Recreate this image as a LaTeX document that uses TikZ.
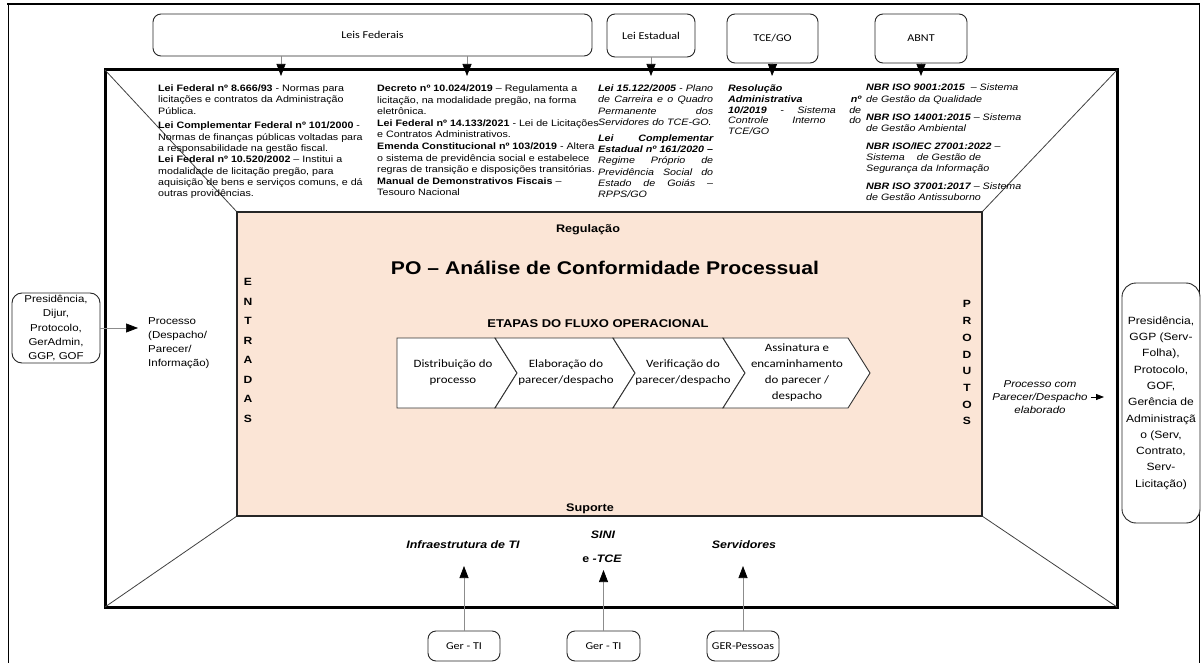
\documentclass[tikz,border=0pt]{standalone}
\usepackage{fontspec}
\setmainfont{Liberation Sans}[FakeStretch=1.15]
\newfontfamily\cf{Carlito}[FakeStretch=1.15]
\usetikzlibrary{arrows.meta}
\definecolor{peach}{RGB}{251,229,214}
\begin{document}
\begin{tikzpicture}[x=1pt,y=-1pt,
  rbox/.style={draw=black!85, line width=0.9pt, rounded corners=8pt, fill=white, inner sep=0},
  arr/.style={draw=black!45, line width=0.7pt, -{Triangle[width=9pt,length=12pt,color=black]}},
  diag/.style={draw=black!75, line width=0.8pt},
  col/.style={inner sep=0, anchor=north west, align=left},
  chev/.style={draw=black!80, fill=white, line width=0.9pt},
  ctext/.style={align=center, inner sep=0, font=\cf\fontsize{11.2}{16}\selectfont},
  boxfont/.style={font=\cf\fontsize{10.5}{12}\selectfont},
  bottxt/.style={inner sep=0, font=\bfseries\itshape\fontsize{10.8}{13}\selectfont}]
\useasboundingbox (0,0) rectangle (1202,663);
% outer frame
\draw[line width=0.8pt] (8,4) -- (8,670);
\draw[line width=0.8pt] (1199,4) -- (1199,670);
\draw[line width=2.2pt] (7,4) -- (1200,4);
% main frame and regulation box
\node[draw, line width=3pt, minimum width=1012pt, minimum height=537pt, inner sep=0, outer sep=0] (mainr) at (611,338.5) {};
\coordinate (rnw) at (237,212); \coordinate (rne) at (982,212);
\coordinate (rsw) at (237,516); \coordinate (rse) at (982,516);
\draw[diag] (mainr.north west) -- (rnw);
\draw[diag] (mainr.north east) -- (rne);
\draw[diag] (mainr.south west) -- (rsw);
\draw[diag] (mainr.south east) -- (rse);
\node[draw=black!85, line width=1.5pt, fill=peach, minimum width=745pt, minimum height=304pt, inner sep=0, outer sep=0] (reg) at (609.5,364) {};
% top boxes
\node[rbox, boxfont, minimum width=439pt, minimum height=42pt] (lf) at (372.5,35) {Leis Federais};
\node[rbox, boxfont, minimum width=88pt, minimum height=43pt] (le) at (651,35.5) {Lei Estadual};
\node[rbox, boxfont, minimum width=91pt, minimum height=49pt] (tce) at (772.5,38.5) {TCE/GO};
\node[rbox, boxfont, minimum width=92pt, minimum height=49pt] (abnt) at (921,38.5) {ABNT};
\coordinate (a1) at (281,76); \coordinate (a2) at (467,76);
\coordinate (a3) at (651,76); \coordinate (a4) at (772,76); \coordinate (a5) at (921,76);
\draw[arr] (lf.south -| a1) -- (a1);
\draw[arr] (lf.south -| a2) -- (a2);
\draw[arr] (le.south) -- (a3);
\draw[arr] (tce.south) -- (a4);
\draw[arr] (abnt.south) -- (a5);
% top texts
\node[col, font=\fontsize{9.3}{11.3}\selectfont] (t1) at (158,84.5) {%
\textbf{Lei Federal nº 8.666/93} - Normas para\\
licitações e contratos da Administração\\
Pública.\\[3.5pt]
\textbf{Lei Complementar Federal nº 101/2000} -\\
Normas de finanças públicas voltadas para\\
a responsabilidade na gestão fiscal.\\
\textbf{Lei Federal nº 10.520/2002} – Institui a\\
modalidade de licitação pregão, para\\
aquisição de bens e serviços comuns, e dá\\
outras providências.};
\node[col, font=\fontsize{9.3}{11.6}\selectfont] (t2) at (377,84.5) {%
\textbf{Decreto nº 10.024/2019} – Regulamenta a\\
licitação, na modalidade pregão, na forma\\
eletrônica.\\
\textbf{Lei Federal nº 14.133/2021} - Lei de Licitações\\
e Contratos Administrativos.\\
\textbf{Emenda Constitucional nº 103/2019} - Altera\\
o sistema de previdência social e estabelece\\
regras de transição e disposições transitórias.\\
\textbf{Manual de Demonstrativos Fiscais} –\\
Tesouro Nacional};
\node[col, font=\itshape\fontsize{9.3}{11.3}\selectfont] (t3) at (598,84.5) {%
\makebox[115pt][s]{\textbf{Lei 15.122/2005} - Plano}\\
\makebox[115pt][s]{de Carreira e o Quadro}\\
\makebox[115pt][s]{Permanente dos}\\
Servidores do TCE-GO.\\[4.5pt]
\makebox[115pt][s]{\textbf{Lei Complementar}}\\
\makebox[115pt][s]{\textbf{Estadual nº 161/2020 –}}\\
\makebox[115pt][s]{Regime Próprio de}\\
\makebox[115pt][s]{Previdência Social do}\\
\makebox[115pt][s]{Estado de Goiás –}\\
RPPS/GO};
\node[col, font=\itshape\fontsize{9.3}{10.8}\selectfont] (t4) at (728,84.5) {%
\textbf{Resolução}\\
\makebox[133pt][s]{\textbf{Administrativa nº}}\\
\makebox[133pt][s]{\textbf{10/2019} - Sistema de}\\
\makebox[133pt][s]{Controle Interno do}\\
TCE/GO};
\node[col, font=\itshape\fontsize{9.3}{11.3}\selectfont] (t5) at (866,84) {%
\textbf{NBR ISO 9001:2015} \ – Sistema\\
de Gestão da Qualidade\\[6.5pt]
\textbf{NBR ISO 14001:2015} – Sistema\\
de Gestão Ambiental\\[6.5pt]
\textbf{NBR ISO/IEC 27001:2022} –\\
Sistema\hspace{12pt}de Gestão de\\
Segurança da Informação\\[6.5pt]
\textbf{NBR ISO 37001:2017} – Sistema\\
de Gestão Antissuborno};
% regulation box texts
\node[inner sep=0, font=\bfseries\fontsize{11}{13}\selectfont] (regt) at (588,230) {Regulação};
\node[inner sep=0, font=\bfseries\fontsize{18.4}{22}\selectfont] (title) at (605,268) {PO – Análise de Conformidade Processual};
\node[inner sep=0, font=\bfseries\fontsize{11.3}{13}\selectfont] (etapas) at (598,324) {ETAPAS DO FLUXO OPERACIONAL};
\node[inner sep=0, font=\bfseries\fontsize{11}{13}\selectfont] (sup) at (590,509) {Suporte};
\node[inner sep=0, anchor=north, align=center, font=\bfseries\fontsize{10.5}{19.5}\selectfont] (ent) at (248,278.5) {E\\N\\T\\R\\A\\D\\A\\S};
\node[inner sep=0, anchor=north, align=center, font=\bfseries\fontsize{10.5}{16.7}\selectfont] (prod) at (967,300.5) {P\\R\\O\\D\\U\\T\\O\\S};
% chevrons
\draw[chev] (397,338) -- (495,338) -- (517,373) -- (495,408) -- (397,408) -- cycle;
\draw[chev] (495,338) -- (613,338) -- (635,373) -- (613,408) -- (495,408) -- (517,373) -- cycle;
\draw[chev] (613,338) -- (723,338) -- (745,373) -- (723,408) -- (613,408) -- (635,373) -- cycle;
\draw[chev] (723,338) -- (848,338) -- (870,373) -- (848,408) -- (723,408) -- (745,373) -- cycle;
\node[ctext] (c1) at (453,373) {Distribuição do\\processo};
\node[ctext] (c2) at (566,373) {Elaboração do\\parecer/despacho};
\node[ctext] (c3) at (683,373) {Verificação do\\parecer/despacho};
\node[ctext] (c4) at (797,373) {Assinatura e\\encaminhamento\\do parecer /\\despacho};
% left side
\node[rbox, rounded corners=10pt, minimum width=88pt, minimum height=70pt, align=center, font=\fontsize{10}{14.2}\selectfont] (lb) at (56,328) {Presidência,\\Dijur,\\Protocolo,\\GerAdmin,\\GGP, GOF};
\coordinate (lbt) at (138,328);
\draw[arr] (lb.east) -- (lbt);
\node[inner sep=0, anchor=west, align=left, font=\fontsize{10}{13.8}\selectfont] (inp) at (148,343) {Processo\\(Despacho/\\Parecer/\\Informação)};
% right side
\node[inner sep=0, align=center, font=\itshape\fontsize{10}{13.3}\selectfont] (outp) at (1040,397) {Processo com\\Parecer/Despacho\\elaborado};
\coordinate (outt) at (1104,397);
\draw[draw=black, line width=0.8pt, -{Triangle[width=6pt,length=8pt,color=black]}] ([xshift=3pt]outp.east) -- (outt);
\node[rbox, rounded corners=14pt, minimum width=78pt, minimum height=240pt, align=center, font=\fontsize{10.5}{16.3}\selectfont] (rb) at (1161,403) {Presidência,\\GGP (Serv-\\Folha),\\Protocolo,\\GOF,\\Gerência de\\Administraçã\\o (Serv,\\Contrato,\\Serv-\\Licitação)};
% bottom
\node[bottxt] (infra) at (463,545) {Infraestrutura de TI};
\node[bottxt] (sini) at (603,535) {SINI};
\node[bottxt] (etce) at (602,559) {\textup{e} -TCE};
\node[bottxt] (serv) at (744,545) {Servidores};
\node[rbox, boxfont, minimum width=72pt, minimum height=30pt] (g1) at (464,646) {Ger - TI};
\node[rbox, boxfont, minimum width=73pt, minimum height=30pt] (g2) at (603.5,646) {Ger - TI};
\node[rbox, boxfont, minimum width=72pt, minimum height=30pt] (g3) at (743,646) {GER-Pessoas};
\coordinate (b1) at (464,566); \coordinate (b2) at (603.5,570); \coordinate (b3) at (743,566);
\draw[arr] (g1.north) -- (b1);
\draw[arr] (g2.north) -- (b2);
\draw[arr] (g3.north) -- (b3);
\end{tikzpicture}
\end{document}
